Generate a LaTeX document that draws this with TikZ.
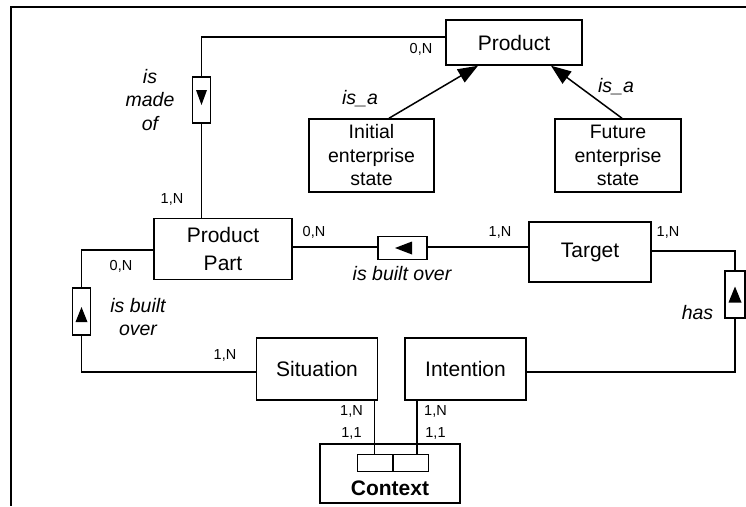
\documentclass[tikz,border=0pt]{standalone}
\usepackage{fontspec}
\setmainfont{Liberation Sans}
\usetikzlibrary{arrows.meta,calc}

\tikzset{
  wire/.style={line width=1.5pt},
  entity/.style={draw, line width=1.5pt, fill=white, inner sep=0pt, align=center,
    font=\fontsize{21}{28}\selectfont},
  substate/.style={entity, font=\fontsize{19.5}{23.5}\selectfont},
  relbox/.style={draw, line width=1.5pt, fill=white, inner sep=0pt},
  keybox/.style={draw, line width=1.5pt, fill=white, inner sep=0pt,
    minimum width=35.5pt, minimum height=17pt},
  card/.style={font=\fontsize{14.5}{17}\selectfont, inner sep=0pt},
  role/.style={font=\itshape\fontsize{19.5}{23.5}\selectfont, inner sep=0pt, align=center},
  isa/.style={line width=1.5pt, -{Triangle[length=20pt,width=15pt]}},
}

\begin{document}
\begin{tikzpicture}[x=1pt, y=-1pt]
\useasboundingbox (0,0) rectangle (746,506);

% open frame: top and left edges only
\draw[wire] (746,7) -- (11,7) -- (11,506);

% entities
\node[entity, minimum width=136pt, minimum height=45pt] (Product) at (514,42.5) {Product};
\node[substate, minimum width=125pt, minimum height=73pt] (Initial) at (371.5,155.5) {Initial\\enterprise\\state};
\node[substate, minimum width=126pt, minimum height=73pt] (Future) at (618,155.5) {Future\\enterprise\\state};
\node[entity, minimum width=138pt, minimum height=61pt] (PP) at (223,249) {Product\\Part};
\node[entity, minimum width=122pt, minimum height=60pt] (Target) at (590,252) {Target};
\node[entity, minimum width=121pt, minimum height=62pt] (Situation) at (317,369) {Situation};
\node[entity, minimum width=121pt, minimum height=62pt] (Intention) at (465.5,369) {Intention};
\node[draw, line width=1.5pt, minimum width=140pt, minimum height=59pt, inner sep=0pt] (ctx) at (390,473.5) {};
\node[font=\bfseries\fontsize{21}{25}\selectfont, inner sep=0pt] (ctxname) at (390,488) {Context};
\node[keybox] (keyL) at (375.25,463) {};
\node[keybox] (keyR) at (410.75,463) {};

% is_a links
\draw[isa] ([xshift=17.5pt]Initial.north) -- ([xshift=-36pt]Product.south);
\draw[isa] ([xshift=4pt]Future.north) -- ([xshift=37pt]Product.south);
\node[role] (isaL) at (360,99) {is\_a};
\node[role] (isaR) at (616,87) {is\_a};

% Product -- Product Part (is made of)
\coordinate (madeBend) at (201.5,37);
\draw[wire] ([yshift=5.5pt]Product.west) -- (madeBend) -- ([xshift=-21.5pt]PP.north);
\node[relbox, minimum width=18pt, minimum height=46pt] (relMade) at (201.5,100) {};
\fill[shift={(relMade.center)}] (-5.5,-10) -- (5.5,-10) -- (0,5) -- cycle;
\node[role] (madeLbl) at (150,100) {is\\made\\of};
\node[card] (cMadeP) at (421,49) {0,N};
\node[card] (cMadePP) at (172,199) {1,N};

% Product Part -- Target (is built over)
\draw[wire] ([yshift=2pt]PP.east) -- ([yshift=5pt]Target.west);
\node[relbox, minimum width=49pt, minimum height=23pt] (relTgt) at (402.5,248) {};
\fill[shift={(relTgt.center)}] (-7.5,0) -- (9.5,-6.5) -- (9.5,6.5) -- cycle;
\node[role] (tgtLbl) at (402,274) {is built over};
\node[card] (cTgtPP) at (314,232) {0,N};
\node[card] (cTgtT) at (500,232) {1,N};

% Product Part -- Situation (is built over)
\coordinate (sitTop) at (81.5,250);
\coordinate (sitBot) at (81.5,372);
\draw[wire] ([yshift=-1pt]PP.west) -- (sitTop) -- (sitBot) -- ([yshift=-3pt]Situation.west);
\node[relbox, minimum width=18pt, minimum height=47pt] (relSit) at (81.5,311.5) {};
\fill[shift={(relSit.center)}] (-6,10.5) -- (6,10.5) -- (0,-4.5) -- cycle;
\node[role] (sitLbl) at (138,317) {is built\\over};
\node[card] (cSitPP) at (121,266) {0,N};
\node[card] (cSitS) at (225,355) {1,N};

% Target -- Intention (has)
\coordinate (hasTop) at (735,251);
\coordinate (hasBot) at (735,372);
\draw[wire] ([yshift=1pt]Target.east) -- (hasTop) -- (hasBot) -- ([yshift=-3pt]Intention.east);
\node[relbox, minimum width=20pt, minimum height=47pt] (relHas) at (735,294.5) {};
\fill[shift={(relHas.center)}] (-6.5,8) -- (6.5,8) -- (0,-8) -- cycle;
\node[role] (hasLbl) at (697.5,313) {has};
\node[card] (cHasT) at (668,232) {1,N};

% Context key links
\draw[wire] ([xshift=-1pt]keyL.north) -- ([xshift=-1pt]keyL.north |- Situation.south);
\draw[wire] ([xshift=6pt]keyR.north) -- ([xshift=6pt]keyR.north |- Intention.south);
\node[card] (cSitN) at (351.5,411) {1,N};
\node[card] (cSit1) at (351.5,433) {1,1};
\node[card] (cIntN) at (435.5,411) {1,N};
\node[card] (cInt1) at (435.5,433) {1,1};
\end{tikzpicture}
\end{document}
